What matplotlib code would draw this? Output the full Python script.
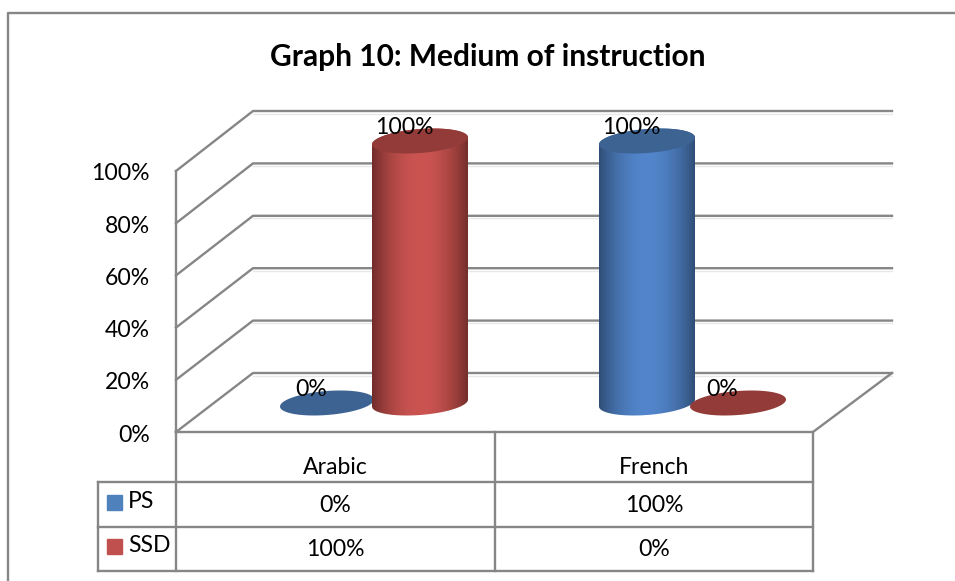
import numpy as np
import matplotlib
matplotlib.use('Agg')
import matplotlib.pyplot as plt
from matplotlib.patches import Polygon, Rectangle

categories = ['Arabic', 'French']
series_names = ['PS', 'SSD']
ps_values = [0, 100]
ssd_values = [100, 0]
y_ticks = [0, 20, 40, 60, 80, 100]
title = 'Graph 10: Medium of instruction'

plt.rcParams['font.family'] = ['Lato', 'DejaVu Sans']
GREY = '#868686'
W, H = 955, 581
FS = 16.6

fig = plt.figure(figsize=(W / 100, H / 100), dpi=100)
ax = fig.add_axes([0, 0, 1, 1])
ax.set_xlim(0, W)
ax.set_ylim(H, 0)
ax.axis('off')


# value -> pixel row on front and back plane of the 3d box
def front_y(v):
    return 432 - v * 2.61


def back_y(v):
    return 373 - v * 2.62


def bar_y(v):
    return 403 - v * 2.62


def line(xs, ys, lw=1.7, c=GREY, z=2):
    ax.plot(xs, ys, color=c, lw=lw, solid_capstyle='projecting', zorder=z)


# outer frame
line([8, 8, W], [H, 13, 13], lw=1.7)

ax.text(488, 57, title, ha='center', va='center', fontsize=21.5, fontweight='bold')

# walls and gridlines
for t in y_ticks:
    line([176, 253, 892], [front_y(t), back_y(t), back_y(t)])
    line([253, 892], [back_y(t) + 2.5, back_y(t) + 2.5], lw=1, c='#e8e8e8', z=1)
    ax.text(150, front_y(t) + 3, f'{t}%', ha='right', va='center', fontsize=FS, color='black')
line([176, 176], [front_y(100), front_y(0)])
line([176, 813, 892], [432, 432, 373])

# data table
line([98, 813], [482, 482])
line([98, 813], [527, 527])
line([98, 813], [571, 571])
line([98, 98], [482, 571])
for x in [176, 495, 813]:
    line([x, x], [432, 571])
rows = [ps_values, ssd_values]
row_y = [504, 548]
cols = [335, 654]
colors = ['#4f81bd', '#c0504d']
for i, c in enumerate(categories):
    ax.text(cols[i], 468, c, ha='center', va='center', fontsize=FS)
for r, vals in enumerate(rows):
    ax.add_patch(Rectangle((107, row_y[r] - 9), 15, 15, color=colors[r], zorder=3))
    ax.text(128, row_y[r] - 2, series_names[r], ha='left', va='center', fontsize=FS)
    for i, v in enumerate(vals):
        ax.text(cols[i], row_y[r] + 2, f'{v}%', ha='center', va='center', fontsize=FS)


def ring(cx, cy, a, t0, t1, n=80, b=12, s=3.5):
    t = np.linspace(t0, t1, n)
    return np.column_stack([cx + a * np.cos(t), cy + b * np.sin(t) - s * np.cos(t)])


def cylinder(cx, a, v, mid, edge, top, z):
    y_top, y_bot = bar_y(v), bar_y(0)
    if v > 0:
        # body: lower half of the base ring plus upper half of the top ring
        pts = np.vstack([ring(cx, y_bot, a, np.pi, 0), ring(cx, y_top, a, 0, -np.pi)])
        poly = Polygon(pts, closed=True, fc='none', ec='none', zorder=z)
        ax.add_patch(poly)
        xs = np.linspace(-1, 1, 200)
        shade = np.abs(xs) ** 2
        grad = np.array(mid)[None, :] * (1 - shade[:, None]) + np.array(edge)[None, :] * shade[:, None]
        im = ax.imshow(grad[None, :, :] / 255, extent=[cx - a, cx + a, y_bot + 14, y_top - 14],
                       aspect='auto', zorder=z, interpolation='bilinear')
        im.set_clip_path(poly)
    ax.add_patch(Polygon(ring(cx, y_top, a, 0, 2 * np.pi), closed=True, fc=top, ec='none', zorder=z + 0.1))


red = dict(mid=(203, 84, 81), edge=(112, 44, 42), top='#923b38')
blue = dict(mid=(82, 133, 203), edge=(47, 78, 118), top='#3d6392')
centers = [[327, 420], [647, 738]]
cylinder(centers[0][0], 47, ps_values[0], z=4, **blue)
cylinder(centers[0][1], 48, ssd_values[0], z=5, **red)
cylinder(centers[1][0], 48, ps_values[1], z=4, **blue)
cylinder(centers[1][1], 48, ssd_values[1], z=5, **red)

ax.set_xlim(0, W)
ax.set_ylim(H, 0)

# data labels
for i in range(2):
    for j, vals in enumerate(rows):
        v = vals[i]
        ax.text(centers[i][j] - 16, bar_y(v) - 13, f'{v}%', ha='center', va='center', fontsize=FS, zorder=8)

fig.savefig('out.png', dpi=100)
